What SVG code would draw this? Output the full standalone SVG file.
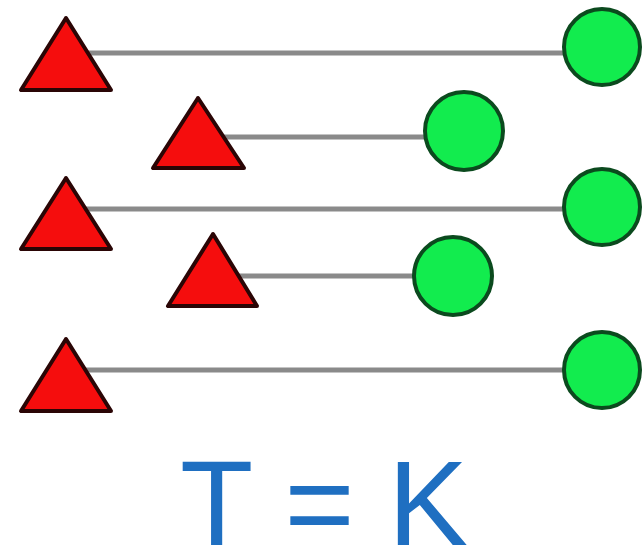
<svg xmlns="http://www.w3.org/2000/svg" width="643" height="557" viewBox="0 0 643 557">
<style>
.tri{fill:#f50d0d;stroke:#2a0505;stroke-width:4;stroke-linejoin:round}
.dot{fill:#12ec4e;stroke:#0b4a1e;stroke-width:4}
.link{stroke:#8a8a8a;stroke-width:5;fill:none}
.lbl{font-family:"Liberation Sans",Arial,sans-serif;font-size:120px;fill:#1f6fc1}
</style>
<rect width="643" height="557" fill="#ffffff"/>
<g id="connectors">
<line class="link" x1="70" y1="53" x2="600" y2="53"/>
<line class="link" x1="200" y1="137" x2="464" y2="137"/>
<line class="link" x1="70" y1="209" x2="600" y2="209"/>
<line class="link" x1="215" y1="276" x2="453" y2="276"/>
<line class="link" x1="70" y1="370" x2="600" y2="370"/>
</g>
<g id="tri1"><polygon class="tri" points="66,18 21,90 111,90"/></g>
<g id="tri2"><polygon class="tri" points="198,98 153,168 244,168"/></g>
<g id="tri3"><polygon class="tri" points="66,178 21,249 111,249"/></g>
<g id="tri4"><polygon class="tri" points="213,234 168,306 257,306"/></g>
<g id="tri5"><polygon class="tri" points="66,339 21,411 111,411"/></g>
<g id="dot1"><circle class="dot" cx="602" cy="47" r="38"/></g>
<g id="dot2"><circle class="dot" cx="464" cy="131" r="39"/></g>
<g id="dot3"><circle class="dot" cx="602" cy="207" r="38"/></g>
<g id="dot4"><circle class="dot" cx="453" cy="276" r="39"/></g>
<g id="dot5"><circle class="dot" cx="602" cy="370" r="38"/></g>
<g id="label"><text class="lbl" x="180" y="545">T = K</text></g>
</svg>
